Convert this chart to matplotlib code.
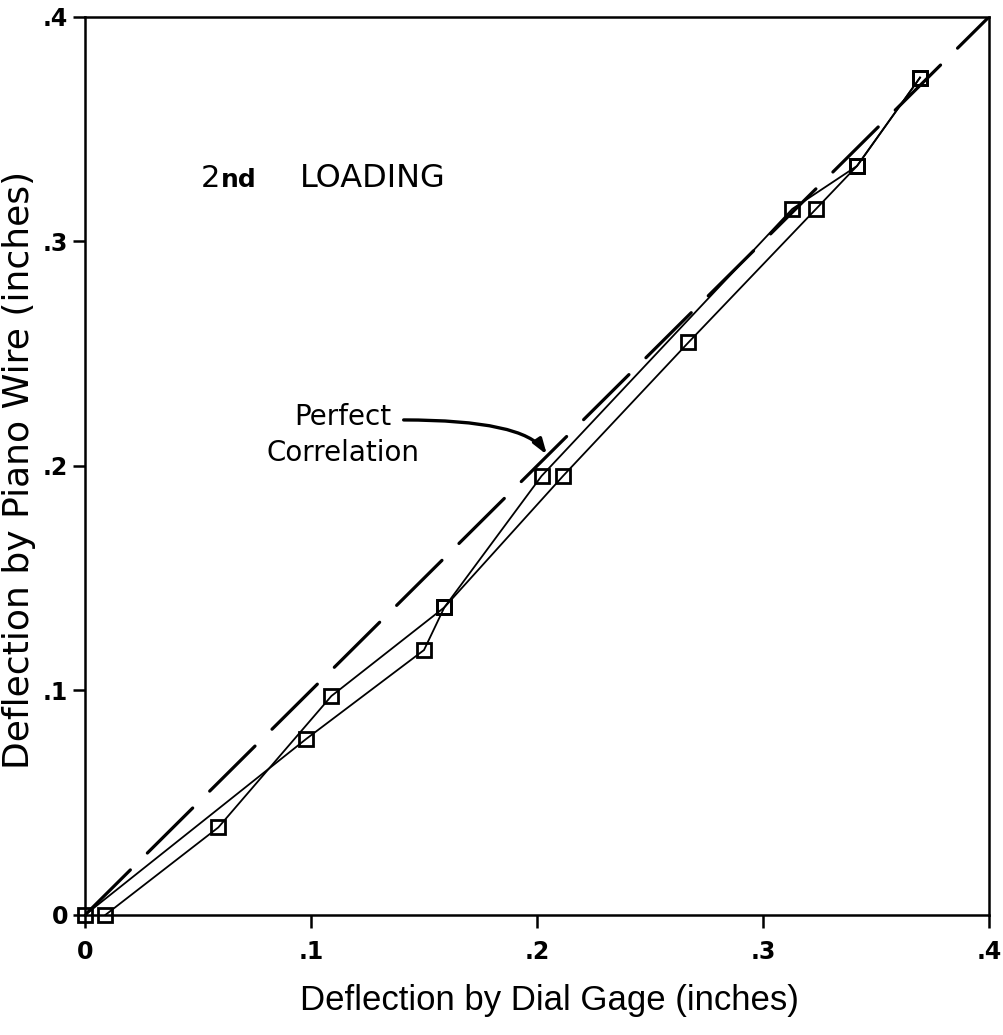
import numpy as np
import matplotlib
matplotlib.use("Agg")
import matplotlib.pyplot as plt

# Readings (inches), loading path and the return path
load_x = [0.0, 0.098, 0.150, 0.159, 0.2115, 0.267, 0.3235, 0.3416, 0.3695]
load_y = [0.0, 0.0785, 0.118, 0.137, 0.1955, 0.255, 0.3145, 0.3336, 0.373]
back_x = [0.3695, 0.3416, 0.313, 0.202, 0.159, 0.109, 0.059, 0.009]
back_y = [0.373, 0.3336, 0.3145, 0.1955, 0.137, 0.0975, 0.039, 0.0]

perfect = [0.0, 0.4]
ticks = [0.0, 0.1, 0.2, 0.3, 0.4]
tick_labels = ["0", ".1", ".2", ".3", ".4"]

fig = plt.figure(figsize=(10.04, 10.35), dpi=100)
ax = fig.add_axes([0.0847, 0.116, 0.9003, 0.8676])

# Perfect correlation line (long dashes)
ax.plot(perfect, perfect, color="black", lw=2.3, dashes=(20, 7.5),
        dash_capstyle="round")

# Measured points
for xs, ys in [(load_x, load_y), (back_x, back_y)]:
    ax.plot(xs, ys, color="black", lw=1.3, marker="s", ms=10.5, mew=2.0,
            mfc="none", mec="black", clip_on=False, zorder=3)

ax.set_xlim(0, 0.4)
ax.set_ylim(0, 0.4)

ax.set_xticks(ticks)
ax.set_xticklabels(tick_labels)
ax.set_yticks(ticks)
ax.set_yticklabels(tick_labels)
ax.tick_params(direction="out", length=9, width=1.8, labelsize=17)
ax.tick_params(axis="x", pad=9)
ax.tick_params(axis="y", pad=3)
for lab in ax.get_xticklabels() + ax.get_yticklabels():
    lab.set_fontweight("bold")

for sp in ax.spines.values():
    sp.set_linewidth(1.8)

ax.set_xlabel("Deflection by Dial Gage (inches)", fontsize=25, va="center",
              family=["Liberation Sans Narrow", "Liberation Sans", "DejaVu Sans"])
ax.xaxis.set_label_coords(0.514, -0.095)
ax.set_ylabel("Deflection by Piano Wire (inches)", fontsize=26, va="center")
ax.yaxis.set_label_coords(-0.073, 0.4955)

# Annotations
ax.text(0.051, 0.3243, "2", fontsize=22, va="baseline", ha="left")
ax.text(0.0600, 0.3243, "nd", fontsize=18, fontweight="bold", va="baseline", ha="left")
ax.text(0.0951, 0.3243, "LOADING", fontsize=23, va="baseline", ha="left")

ax.text(0.114, 0.2138, "Perfect\nCorrelation", fontsize=20, ha="center", va="center",
        linespacing=1.4)
ax.annotate("", xy=(0.2044, 0.205), xytext=(0.141, 0.2205),
            arrowprops=dict(arrowstyle="-|>,head_length=0.9,head_width=0.3",
                            color="black", lw=2.4, shrinkA=0, shrinkB=0,
                            connectionstyle="angle3,angleA=0,angleB=-56"))

fig.savefig("out.png", dpi=100)
